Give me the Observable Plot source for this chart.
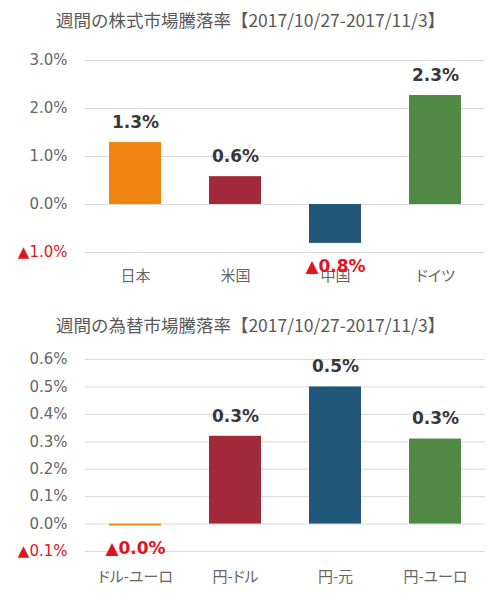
<!DOCTYPE html>
<html>
<head>
<meta charset="utf-8">
<script src="https://cdn.jsdelivr.net/npm/d3@7"></script>
<script src="https://cdn.jsdelivr.net/npm/@observablehq/plot@0.6"></script>
<style>
  html, body { margin: 0; padding: 0; background: #fff; }
  #wrap { position: relative; width: 501px; height: 600px; overflow: hidden; }
  .title { position: absolute; left: 0; width: 501px; text-align: center;
           font-family: "Noto Sans CJK JP", sans-serif; font-size: 17.5px; color: #595959;
           line-height: 24px; white-space: nowrap; }
  .panel { position: absolute; left: 0; }
  g[aria-label="x-axis tick label"] text { font-feature-settings: "palt"; }
</style>
</head>
<body>
<div id="wrap">
  <div class="title" id="t1" style="top:8px"></div>
  <div class="panel" id="p1" style="top:35px"></div>
  <div class="title" id="t2" style="top:313px"></div>
  <div class="panel" id="p2" style="top:340px"></div>
</div>
<script>
// ---- data ----
const stockTitle = "週間の株式市場騰落率【2017/10/27-2017/11/3】";
const stockCategories = ["日本", "米国", "中国", "ドイツ"];
const stockValues = [1.29, 0.58, -0.81, 2.27];
const stockTicks = [-1, 0, 1, 2, 3];

const fxTitle = "週間の為替市場騰落率【2017/10/27-2017/11/3】";
const fxCategories = ["ドル-ユーロ", "円-ドル", "円-元", "円-ユーロ"];
const fxValues = [-0.007, 0.32, 0.5, 0.31];
const fxTicks = [-0.1, 0, 0.1, 0.2, 0.3, 0.4, 0.5, 0.6];

const barColors = ["#ef8410", "#a2293a", "#1f5679", "#4f8943"];

// ---- drawing ----
const pct = d => (d < 0 ? "▲" : "") + Math.abs(d).toFixed(1) + "%";

function panel({categories, values, ticks, marginTop, marginBottom, xPad}) {
  const data = categories.map((c, i) => ({cat: c, val: values[i]}));
  const lo = d3.min(ticks), hi = d3.max(ticks);
  const common = {tickSize: 0, tickPadding: 18, fontSize: 15, fontFamily: "DejaVu Sans, sans-serif", tickFormat: pct};
  const labelFont = {fontWeight: "bold", fontSize: 17, fontFamily: "DejaVu Sans, sans-serif"};
  return Plot.plot({
    width: 501,
    height: 260,
    marginLeft: 85,
    marginRight: 16,
    marginTop,
    marginBottom,
    x: {domain: categories, paddingInner: 0.48, paddingOuter: 0.24, label: null},
    y: {domain: [lo, hi], label: null},
    color: {domain: categories, range: barColors},
    style: {background: "transparent", overflow: "visible"},
    marks: [
      Plot.gridY(ticks, {stroke: "#d9d9d9", strokeOpacity: 1, strokeWidth: 1}),
      Plot.barY(data, {x: "cat", y: "val", fill: "cat"}),
      Plot.axisX({tickSize: 0, tickPadding: xPad, fontSize: 15, fill: "#666",
                  fontFamily: "Noto Sans CJK JP, sans-serif", label: null}),
      Plot.axisY(ticks.filter(t => t >= 0), {...common, fill: "#666", label: null}),
      Plot.axisY(ticks.filter(t => t < 0), {...common, fill: "#e0141e", label: null}),
      Plot.text(data, {filter: d => d.val >= 0, x: "cat", y: "val", text: d => pct(d.val),
                       dy: -20, fill: "#383838", ...labelFont}),
      Plot.text(data, {filter: d => d.val < 0, x: "cat", y: "val", text: d => pct(d.val),
                       dy: 23, fill: "#e0141e", ...labelFont})
    ]
  });
}

document.getElementById("t1").textContent = stockTitle;
document.getElementById("t2").textContent = fxTitle;
document.getElementById("p1").appendChild(panel({
  categories: stockCategories, values: stockValues, ticks: stockTicks,
  marginTop: 25, marginBottom: 43, xPad: 18
}));
document.getElementById("p2").appendChild(panel({
  categories: fxCategories, values: fxValues, ticks: fxTicks,
  marginTop: 19, marginBottom: 49, xPad: 20
}));
</script>
</body>
</html>
